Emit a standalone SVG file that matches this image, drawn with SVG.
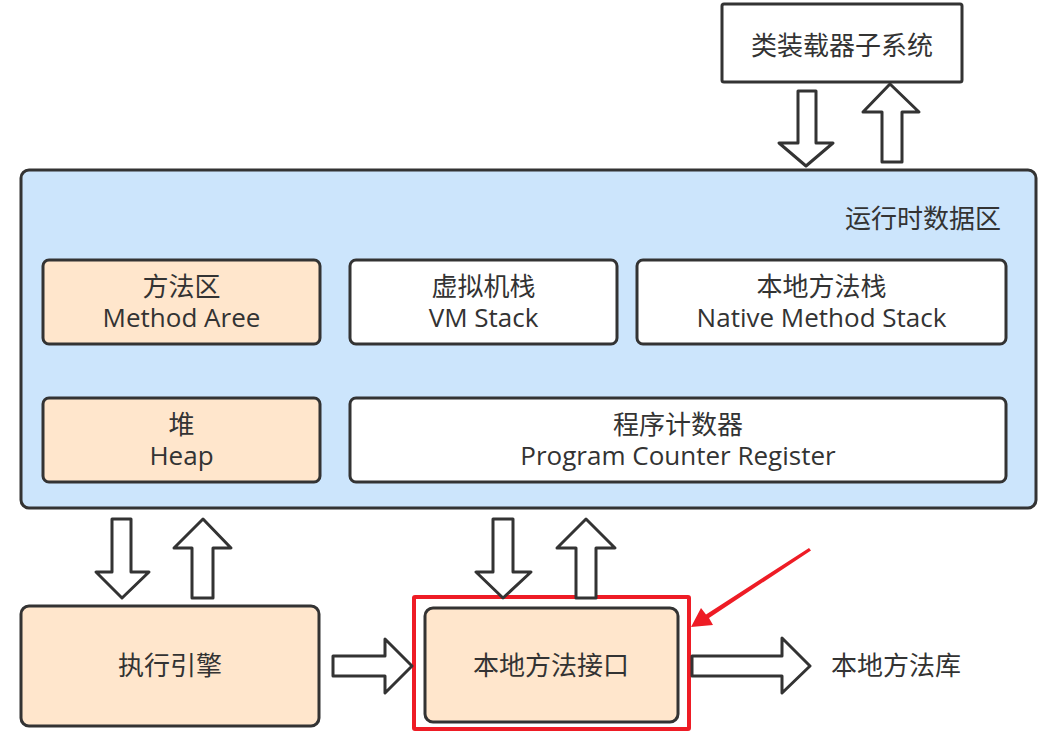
<svg xmlns="http://www.w3.org/2000/svg" width="1053" height="731" viewBox="0 0 1053 731">
<style>
text{font-family:"Open Sans","Noto Sans CJK SC",sans-serif;font-size:26px;fill:#333;text-anchor:middle}
.box{stroke:#333;stroke-width:3}
.peach{fill:#ffe6cc}
.white{fill:#fff}
.blue{fill:#cce5fc}
.arr{fill:#fff;stroke:#333;stroke-width:3;stroke-linejoin:round}
</style>
<rect width="1053" height="731" fill="#fff"/>
<g id="classloader">
<rect class="box white" x="722" y="4" width="240" height="78" rx="2"/>
<text x="842" y="55">类装载器子系统</text>
</g>
<g id="runtime">
<rect class="box blue" x="21" y="170" width="1015" height="338" rx="8"/>
<text x="1001" y="228" style="text-anchor:end">运行时数据区</text>
</g>
<g id="method-area">
<rect class="box peach" x="43" y="260" width="277" height="84" rx="6"/>
<text x="181.5" y="296">方法区<tspan x="181.5" y="327">Method Aree</tspan></text>
</g>
<g id="vm-stack">
<rect class="box white" x="350" y="260" width="267" height="84" rx="6"/>
<text x="483.5" y="296">虚拟机栈<tspan x="483.5" y="327">VM Stack</tspan></text>
</g>
<g id="native-stack">
<rect class="box white" x="637" y="260" width="369" height="84" rx="6"/>
<text x="821.5" y="296">本地方法栈<tspan x="821.5" y="327">Native Method Stack</tspan></text>
</g>
<g id="heap">
<rect class="box peach" x="43" y="398" width="277" height="84" rx="6"/>
<text x="181.5" y="434">堆<tspan x="181.5" y="465">Heap</tspan></text>
</g>
<g id="pc-register">
<rect class="box white" x="350" y="398" width="656" height="84" rx="6"/>
<text x="678" y="434">程序计数器<tspan x="678" y="465">Program Counter Register</tspan></text>
</g>
<g id="exec-engine">
<rect class="box peach" x="21" y="606" width="298" height="120" rx="8"/>
<text x="170" y="675">执行引擎</text>
</g>
<g id="native-interface">
<rect x="414" y="597" width="275" height="132" fill="none" stroke="#ee1c25" stroke-width="4" rx="1"/>
<rect class="box peach" x="425" y="608" width="253" height="114" rx="8"/>
<text x="551" y="675">本地方法接口</text>
</g>
<g id="native-lib">
<text x="896" y="675">本地方法库</text>
</g>
<g id="connectors">
<polygon class="arr" points="798,91 816,91 816,143 833,143 806,166 779,143 798,143"/>
<polygon class="arr" points="890,84 919,112 902,112 902,162 882,162 882,112 863,112"/>
<polygon class="arr" points="112,519 131,519 131,572 149,572 122,598 96,572 112,572"/>
<polygon class="arr" points="203,519 231,548 213,548 213,598 192,598 192,548 174,548"/>
<polygon class="arr" points="493,519 513,519 513,572 531,572 503,598 476,572 493,572"/>
<polygon class="arr" points="586,519 615,548 596,548 596,598 576,598 576,548 557,548"/>
<polygon class="arr" points="333,656 385,656 385,639 412,666 385,693 385,676 333,676"/>
<polygon class="arr" points="692,656 782,656 782,638 810,666 782,693 782,676 692,676"/>
<polygon fill="#ee1c25" points="691,627 701,608 706,614.5 809,548 811,550.5 709,618 713,625"/>
</g>
</svg>
